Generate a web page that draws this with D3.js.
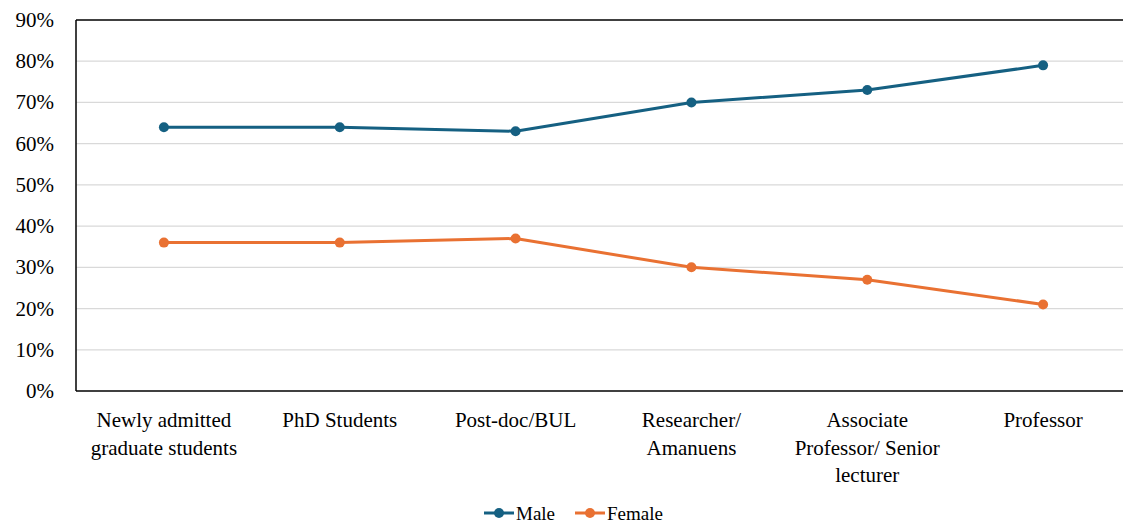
<!DOCTYPE html>
<html>
<head>
<meta charset="utf-8">
<script src="https://cdn.jsdelivr.net/npm/d3@7"></script>
</head>
<body style="margin:0">
<svg id="chart" width="1123" height="525" style="display:block"></svg>
<script>
// Share of men and women at each academic career stage
const categories = [
  ["Newly admitted", "graduate students"],
  ["PhD Students"],
  ["Post-doc/BUL"],
  ["Researcher/", "Amanuens"],
  ["Associate", "Professor/ Senior", "lecturer"],
  ["Professor"]
];
const maleValues = [64, 64, 63, 70, 73, 79];
const femaleValues = [36, 36, 37, 30, 27, 21];
const yTicks = [0, 10, 20, 30, 40, 50, 60, 70, 80, 90];

const seriesList = [
  { name: "Male", values: maleValues, color: "#156082" },
  { name: "Female", values: femaleValues, color: "#E97132" }
];

const FONT = "Times New Roman";
const svg = d3.select("#chart");
const plotLeft = 76, plotRight = 1131, plotTop = 20, plotBottom = 391;

const x = d3.scaleBand()
  .domain(d3.range(categories.length))
  .range([plotLeft, plotRight]);
const y = d3.scaleLinear().domain([0, 90]).range([plotBottom, plotTop]);

// horizontal gridlines
svg.append("g")
  .selectAll("line")
  .data(yTicks.filter(t => t > 0 && t < 90))
  .join("line")
  .attr("x1", plotLeft).attr("x2", 1123)
  .attr("y1", d => y(d)).attr("y2", d => y(d))
  .attr("stroke", "#d9d9d9").attr("stroke-width", 1.3);

// y axis labels, written out as plain text at the scale positions
svg.append("g")
  .selectAll("text")
  .data(yTicks)
  .join("text")
  .attr("x", plotLeft - 22)
  .attr("y", d => y(d) + 7)
  .attr("text-anchor", "end")
  .attr("font-family", FONT)
  .attr("font-size", 21)
  .attr("fill", "#000")
  .text(d => d + "%");

// frame: top, left and bottom lines
svg.append("line").attr("x1", plotLeft).attr("x2", 1123).attr("y1", plotTop).attr("y2", plotTop)
  .attr("stroke", "#000").attr("stroke-width", 1.5);
svg.append("line").attr("x1", plotLeft).attr("x2", plotLeft).attr("y1", plotTop).attr("y2", plotBottom)
  .attr("stroke", "#000").attr("stroke-width", 1.5);
svg.append("line").attr("x1", plotLeft).attr("x2", 1123).attr("y1", plotBottom).attr("y2", plotBottom)
  .attr("stroke", "#000").attr("stroke-width", 1.5);

// category labels
const cx = i => x(i) + x.bandwidth() / 2;
categories.forEach((lines, i) => {
  lines.forEach((ln, j) => {
    svg.append("text")
      .attr("x", cx(i)).attr("y", 427 + j * 27.5)
      .attr("text-anchor", "middle")
      .attr("font-family", FONT)
      .attr("font-size", 21)
      .attr("fill", "#000")
      .text(ln);
  });
});

// series lines and markers
const line = d3.line().x((d, i) => cx(i)).y(d => y(d));
seriesList.forEach(s => {
  svg.append("path")
    .datum(s.values)
    .attr("d", line)
    .attr("fill", "none")
    .attr("stroke", s.color)
    .attr("stroke-width", 3)
    .attr("stroke-linejoin", "round");
  svg.append("g").selectAll("circle")
    .data(s.values)
    .join("circle")
    .attr("cx", (d, i) => cx(i))
    .attr("cy", d => y(d))
    .attr("r", 5)
    .attr("fill", s.color);
});

// legend
const legendItems = [
  { s: seriesList[0], x0: 484 },
  { s: seriesList[1], x0: 575 }
];
const ly = 513;
legendItems.forEach(({ s, x0 }) => {
  svg.append("line").attr("x1", x0).attr("x2", x0 + 30).attr("y1", ly).attr("y2", ly)
    .attr("stroke", s.color).attr("stroke-width", 3);
  svg.append("circle").attr("cx", x0 + 15).attr("cy", ly).attr("r", 5).attr("fill", s.color);
  svg.append("text").attr("x", x0 + 32).attr("y", ly + 6.5)
    .attr("font-family", FONT)
    .attr("font-size", 19).attr("fill", "#000").text(s.name);
});
</script>
</body>
</html>
